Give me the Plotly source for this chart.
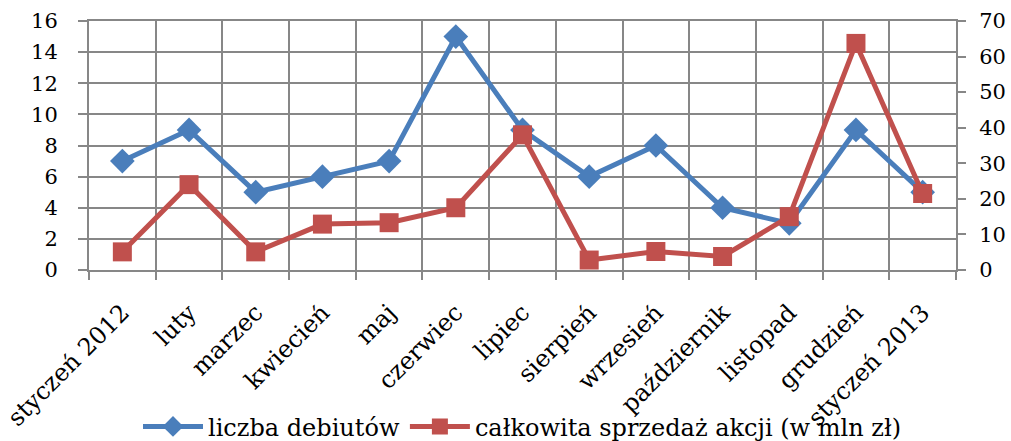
import plotly.graph_objects as go

categories = ["styczeń 2012", "luty", "marzec", "kwiecień", "maj", "czerwiec", "lipiec",
              "sierpień", "wrzesień", "październik", "listopad", "grudzień", "styczeń 2013"]
debiuty = [7, 9, 5, 6, 7, 15, 9, 6, 8, 4, 3, 9, 5]
sprzedaz = [5.1, 24, 5.1, 12.9, 13.3, 17.5, 38, 2.8, 5.2, 3.8, 15, 63.7, 21.5]

blue = "#4A7EBB"
red = "#C0504D"
grid = "#878787"
font_family = "'DejaVu Serif', 'Liberation Serif', serif"

fig = go.Figure()
fig.add_trace(go.Scatter(
    x=categories, y=debiuty, name="liczba debiutów", mode="lines+markers",
    line=dict(color=blue, width=5),
    marker=dict(symbol="diamond", size=19, color=blue),
    yaxis="y",
))
fig.add_trace(go.Scatter(
    x=categories, y=sprzedaz, name="całkowita sprzedaż akcji (w mln zł)", mode="lines+markers",
    line=dict(color=red, width=5),
    marker=dict(symbol="square", size=19, color=red),
    yaxis="y2",
))

fig.update_layout(
    width=1011, height=441,
    margin=dict(l=89, r=55, t=21, b=171, autoexpand=False),
    paper_bgcolor="white", plot_bgcolor="white",
    font=dict(family=font_family, size=22, color="black"),
    showlegend=True,
    legend=dict(orientation="h", x=0.5, xanchor="center", y=-0.63, yanchor="middle",
                font=dict(family=font_family, size=24, color="black"),
                itemwidth=60, tracegroupgap=0, bgcolor="rgba(0,0,0,0)"),
    xaxis=dict(
        type="category", tickson="boundaries", showgrid=True, gridcolor=grid, gridwidth=2,
        ticks="outside", ticklen=8, tickwidth=2, tickcolor=grid,
        tickangle=-45, tickfont=dict(family=font_family, size=24),
        showline=True, linecolor=grid, linewidth=2, mirror=True,
        range=[-0.5, 12.5], automargin=False, ticklabelstandoff=17,
    ),
    yaxis=dict(
        range=[0, 16], tickvals=[0, 2, 4, 6, 8, 10, 12, 14, 16],
        showgrid=True, gridcolor=grid, gridwidth=2, zeroline=False,
        ticks="outside", ticklen=9, tickwidth=2, tickcolor=grid,
        showline=True, linecolor=grid, linewidth=2, mirror=True,
        tickfont=dict(family=font_family, size=21), automargin=False,
        ticklabelstandoff=16,
    ),
    yaxis2=dict(
        range=[0, 70], tickvals=[0, 10, 20, 30, 40, 50, 60, 70],
        overlaying="y", side="right", showgrid=False, zeroline=False,
        ticks="outside", ticklen=9, tickwidth=2, tickcolor=grid,
        tickfont=dict(family=font_family, size=21), automargin=False,
        ticklabelstandoff=9,
    ),
)

fig.write_html("out.html", config={"displayModeBar": False},
               post_script="document.body.style.margin='0';document.body.style.overflow='hidden';")
